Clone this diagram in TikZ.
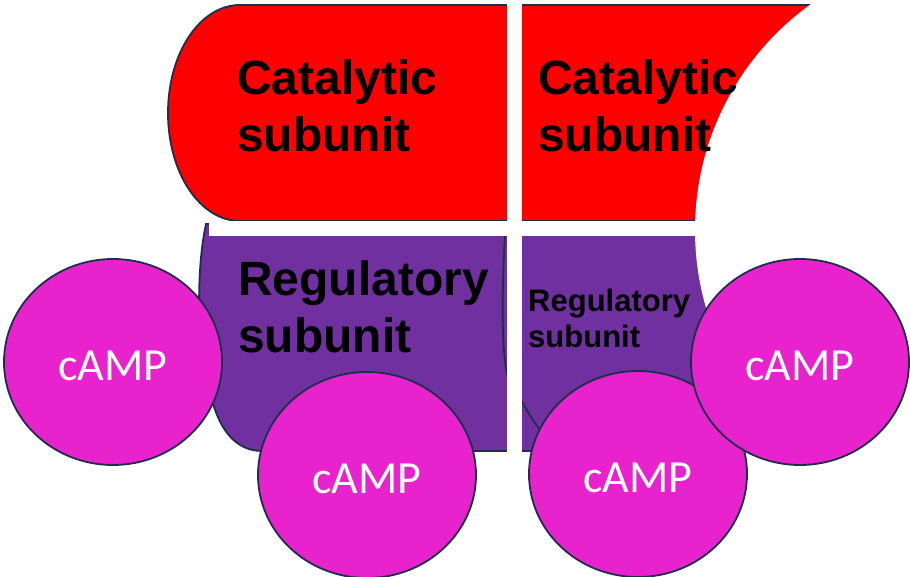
\documentclass[tikz,border=0pt]{standalone}
\usepackage{fontspec}
\setmainfont{Liberation Sans}
\newfontfamily\campfont{Carlito}
\usetikzlibrary{shapes.geometric}
\definecolor{catred}{HTML}{FF0000}
\definecolor{regpurple}{HTML}{7030A0}
\definecolor{campmag}{HTML}{E823CE}
\definecolor{edgeblue}{HTML}{1B2F4B}
\tikzset{
  subunitedge/.style={draw=edgeblue, line width=1.8pt},
  camp/.style={ellipse, draw=edgeblue, line width=1.8pt, fill=campmag,
    minimum width=218pt, minimum height=206pt, inner sep=0pt, text=white,
    text height=36pt, text depth=0pt,
    font=\campfont\fontsize{46}{52}\selectfont},
  biglabel/.style={anchor=base west, inner sep=0pt, font=\bfseries\fontsize{48}{58}\selectfont},
  smalllabel/.style={anchor=base west, inner sep=0pt, font=\bfseries\fontsize{31}{36}\selectfont},
  gap/.style={fill=white, draw=none}
}
\begin{document}
\begin{tikzpicture}[x=1pt,y=-1pt]
\useasboundingbox (0,0) rectangle (910,577);
\clip (0,0) rectangle (910,577);
\fill[white] (0,0) rectangle (910,577);

% catalytic subunits (red band with rounded left end)
\path[fill=catred, subunitedge]
  (240,5) -- (840,5) -- (840,221) -- (240,221)
  .. controls (200,221) and (168,173) .. (168,113)
  .. controls (168,53) and (200,5) .. (240,5) -- cycle;

% regulatory subunit, left
\path[fill=regpurple, subunitedge]
  (206,224) .. controls (196,270) and (196,350) .. (212,400)
  .. controls (220,430) and (236,451) .. (262,451)
  -- (720,451) -- (720,224) -- cycle;

% regulatory subunit, right
\path[fill=regpurple, subunitedge]
  (506,224) .. controls (502,270) and (502,330) .. (504,350)
  .. controls (506,380) and (512,392) .. (522,402)
  .. controls (530,415) and (538,432) .. (560,451)
  -- (720,451) -- (720,224) -- cycle;

% white cut on the right
\fill[white] (973,230) circle[radius=278];

% white gaps between the subunits
\path[gap] (507,0) rectangle (522,452);
\path[gap] (209,221) rectangle (730,236);

% cAMP molecules
\node[camp] (c1) at (113,362) {cAMP};
\node[camp] (c2) at (367,475) {cAMP};
\node[camp] (c3) at (638,474) {cAMP};
\node[camp] (c4) at (800,362) {cAMP};

% labels
\node[biglabel] (cat1a) at (237,95) {Catalytic};
\node[biglabel] (cat1b) at (237,152) {subunit};
\node[biglabel] (cat2a) at (538,95) {Catalytic};
\node[biglabel] (cat2b) at (538,152) {subunit};
\node[biglabel] (reg1a) at (238,295) {Regulatory};
\node[biglabel] (reg1b) at (238,352) {subunit};
\node[smalllabel] (reg2a) at (528,312) {Regulatory};
\node[smalllabel] (reg2b) at (528,347) {subunit};
\end{tikzpicture}
\end{document}
